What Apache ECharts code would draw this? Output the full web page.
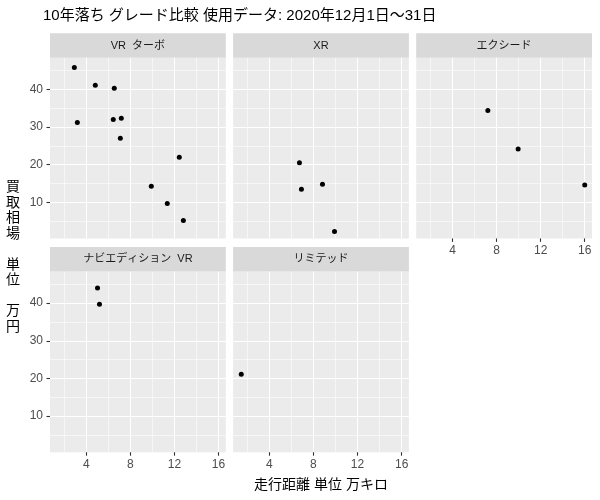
<!DOCTYPE html>
<html><head><meta charset="utf-8">
<script src="https://cdn.jsdelivr.net/npm/echarts@6/dist/echarts.min.js"></script>
<style>html,body{margin:0;padding:0;background:#fff}#c{width:600px;height:500px}</style>
</head><body><div id="c"></div>
<script>
// ---- text ----
const titleText = '10年落ち グレード比較 使用データ: 2020年12月1日～31日';
const xTitle = '走行距離 単位 万キロ';
const yTitleLines = ['買','取','相','場','','単','位','','万','円'];
const grades = ['VR  ターボ', 'XR', 'エクシード', 'ナビエディション  VR', 'リミテッド'];

// ---- data (走行距離 万キロ, 買取相場 万円) ----
const vrTurboKm    = [2.92, 3.19, 4.82, 6.54, 6.45, 7.18, 7.09, 9.90, 12.44, 11.35, 12.81];
const vrTurboPrice = [45.8, 31.2, 41.1, 40.3, 32.0, 32.3, 27.0, 14.3, 22.0, 9.7, 5.2];
const xrKm         = [6.73, 6.91, 8.82, 9.91];
const xrPrice      = [20.5, 13.5, 14.8, 2.3];
const exceedKm     = [7.21, 9.96, 16.0];
const exceedPrice  = [34.4, 24.2, 14.6];
const naviKm       = [5.02, 5.2];
const naviPrice    = [44.0, 39.7];
const limitedKm    = [1.45];
const limitedPrice = [21.1];

// ---- scales ----
const xMajorTicks = [4, 8, 12, 16];
const xMinorTicks = [2, 6, 10, 14];
const yMajorTicks = [10, 20, 30, 40];
const yMinorTicks = [5, 15, 25, 35, 45];
const xLimits = [0.71, 16.66];
const yLimits = [0.44, 48.4];

const kmSets = [vrTurboKm, xrKm, exceedKm, naviKm, limitedKm];
const priceSets = [vrTurboPrice, xrPrice, exceedPrice, naviPrice, limitedPrice];

// ---- layout ----
const FONT = '"Liberation Sans", "Noto Sans CJK JP", sans-serif';
const colLeft = [50, 233.1, 416.2];
const panelW = 175.8;
const rowTop = [57.7, 271.5];
const panelH = 180.7;
const stripH = 24.4;
const showXLabels = [false, false, true, true, true];
const showYLabels = [true, false, false, true, false];

const grids = [], xAxes = [], yAxes = [], series = [], graphics = [];
grades.forEach((g, i) => {
  const col = i % 3, row = Math.floor(i / 3);
  const left = colLeft[col], top = rowTop[row];
  grids.push({left: left, top: top, width: panelW, height: panelH, show: true,
    backgroundColor: '#EBEBEB', borderWidth: 0, containLabel: false});
  const axisCommon = {type: 'value', gridIndex: i, axisLine: {show: false}};
  xAxes.push(Object.assign({}, axisCommon, {
    min: xLimits[0], max: xLimits[1],
    axisTick: {show: showXLabels[i], customValues: xMajorTicks, length: 3.5, lineStyle: {color: '#333333', width: 1.1}},
    axisLabel: {show: showXLabels[i], customValues: xMajorTicks, color: '#4D4D4D', fontSize: 12, fontFamily: FONT, margin: 6},
    splitLine: {show: true, lineStyle: {color: '#FFFFFF', width: 1.1}}
  }));
  xAxes.push(Object.assign({}, axisCommon, {
    min: xLimits[0], max: xLimits[1],
    axisTick: {show: false, customValues: xMinorTicks},
    axisLabel: {show: false, customValues: xMinorTicks},
    splitLine: {show: true, lineStyle: {color: '#FFFFFF', width: 0.55}}
  }));
  yAxes.push(Object.assign({}, axisCommon, {
    min: yLimits[0], max: yLimits[1],
    axisTick: {show: showYLabels[i], customValues: yMajorTicks, length: 3.5, lineStyle: {color: '#333333', width: 1.1}},
    axisLabel: {show: showYLabels[i], customValues: yMajorTicks, color: '#4D4D4D', fontSize: 12, fontFamily: FONT, margin: 7},
    splitLine: {show: true, lineStyle: {color: '#FFFFFF', width: 1.1}}
  }));
  yAxes.push(Object.assign({}, axisCommon, {
    min: yLimits[0], max: yLimits[1],
    axisTick: {show: false, customValues: yMinorTicks},
    axisLabel: {show: false, customValues: yMinorTicks},
    splitLine: {show: true, lineStyle: {color: '#FFFFFF', width: 0.55}}
  }));
  series.push({
    type: 'scatter', name: g, xAxisIndex: 2 * i, yAxisIndex: 2 * i,
    symbol: 'circle', symbolSize: 5, itemStyle: {color: '#000000', opacity: 1},
    data: kmSets[i].map((x, k) => [x, priceSets[i][k]]), z: 5
  });
  graphics.push({type: 'rect', shape: {x: left, y: top - stripH, width: panelW, height: stripH},
    style: {fill: '#D9D9D9'}, silent: true});
  graphics.push({type: 'text', x: left + panelW / 2, y: top - stripH / 2,
    style: {text: g, fill: '#1A1A1A', fontSize: 11, fontFamily: FONT, align: 'center', verticalAlign: 'middle'}, silent: true});
});

graphics.push({type: 'text', x: 43, y: 16, style: {text: titleText, fill: '#000000', fontSize: 15,
  fontFamily: FONT, align: 'left', verticalAlign: 'middle'}});
graphics.push({type: 'text', x: 321, y: 485, style: {text: xTitle, fill: '#000000', fontSize: 14,
  fontFamily: FONT, align: 'center', verticalAlign: 'middle'}});
graphics.push({type: 'text', x: 13, y: 257, style: {text: yTitleLines.join('\n'), fill: '#000000', fontSize: 14,
  lineHeight: 15.5, fontFamily: FONT, align: 'center', verticalAlign: 'middle'}});

const chart = echarts.init(document.getElementById('c'), null, {renderer: 'canvas'});
chart.setOption({
  animation: false,
  backgroundColor: '#FFFFFF',
  grid: grids, xAxis: xAxes, yAxis: yAxes, series: series, graphic: graphics
});
</script></body></html>
